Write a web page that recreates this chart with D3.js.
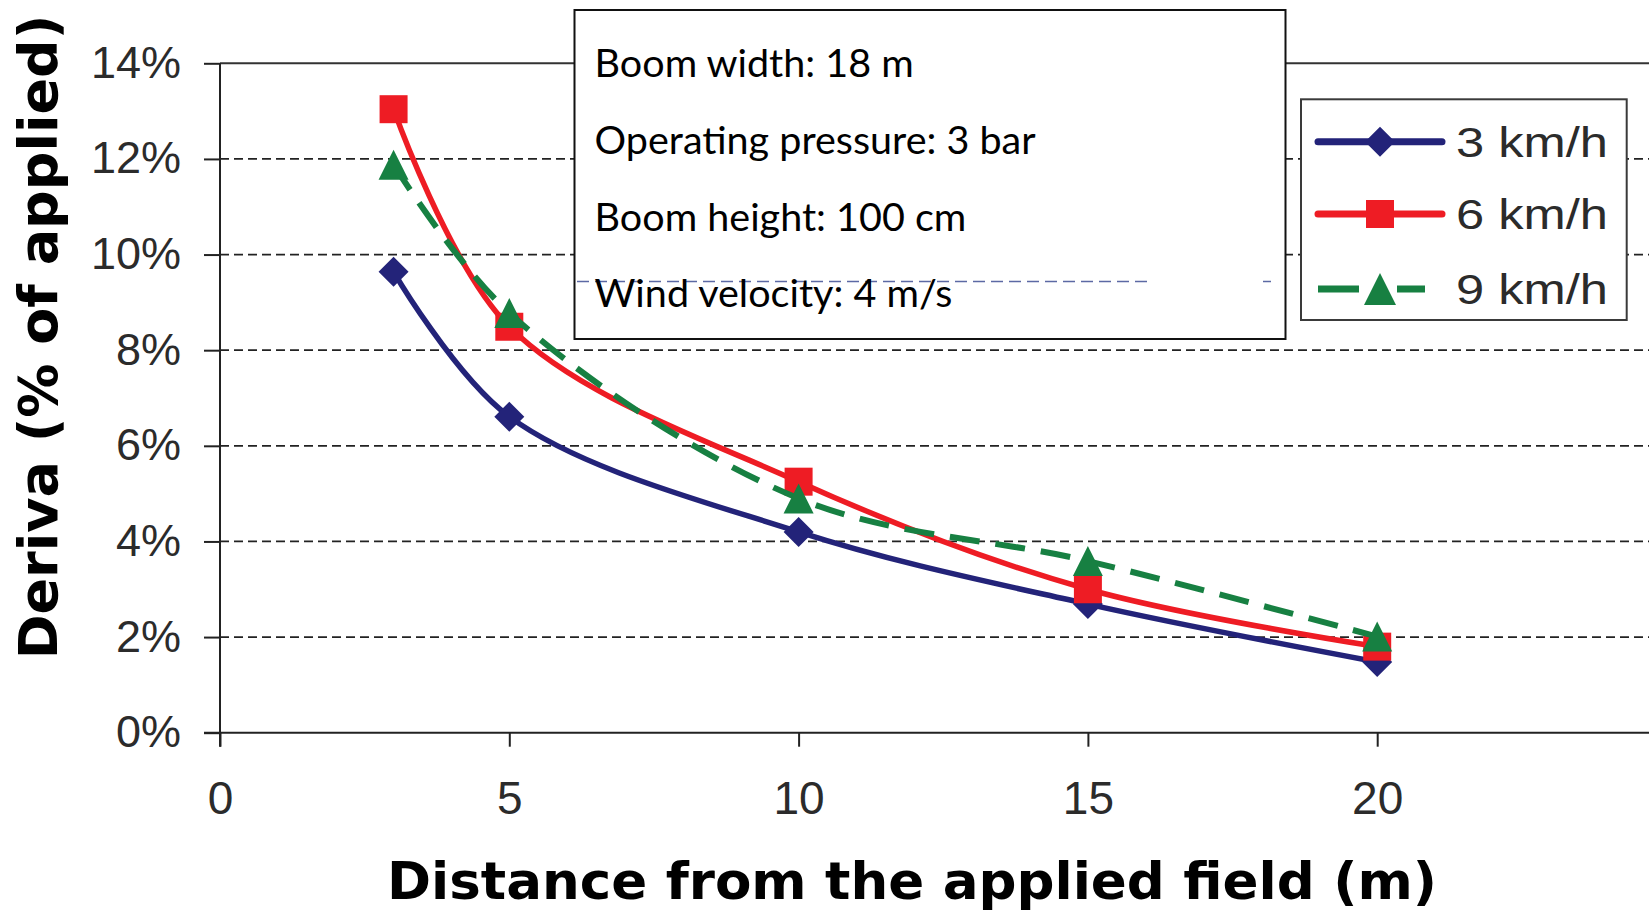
<!DOCTYPE html>
<html>
<head>
<meta charset="utf-8">
<script src="https://cdn.jsdelivr.net/npm/d3@7"></script>
<style>
  html, body { margin: 0; padding: 0; background: #fff; }
  svg { display: block; }
</style>
</head>
<body>
<svg id="chart" width="1649" height="914"></svg>
<script>
// Distance from the sprayed field (m)
const distances = [3, 5, 10, 15, 20];
// Drift, % of applied dose, per travel speed
const drift3kmh = [9.64, 6.61, 4.20, 2.69, 1.48];
const drift6kmh = [13.04, 8.49, 5.25, 3.00, 1.80];
const drift9kmh = [11.88, 8.78, 4.90, 3.59, 2.01];
const seriesNames = ["3 km/h", "6 km/h", "9 km/h"];
const xTickValues = [0, 5, 10, 15, 20];
const yTickValues = [0, 2, 4, 6, 8, 10, 12, 14];
const conditions = [
  "Boom width: 18 m",
  "Operating pressure: 3 bar",
  "Boom height: 100 cm",
  "Wind velocity: 4 m/s"
];

const series = [
  { name: seriesNames[0], values: drift3kmh, color: "#232379", marker: "diamond", dash: null },
  { name: seriesNames[1], values: drift6kmh, color: "#ee1c24", marker: "square", dash: null },
  { name: seriesNames[2], values: drift9kmh, color: "#178042", marker: "triangle", dash: "30 16" }
];

const svg = d3.select("#chart");

const x = d3.scaleLinear().domain([0, 25]).range([220, 220 + 25 * 57.86]);
const y = d3.scaleLinear().domain([0, 14]).range([732.7, 63.3]);

const axisColor = "#222";
const tickFont = "'Liberation Sans', Arial, Helvetica, sans-serif";

// Horizontal gridlines (dashed), top border solid
const grid = svg.append("g");
grid.selectAll("line")
  .data(yTickValues.filter(v => v > 0))
  .join("line")
  .attr("x1", x(0)).attr("x2", 1649)
  .attr("y1", d => y(d)).attr("y2", d => y(d))
  .attr("stroke", d => d === 14 ? "#333" : "#222")
  .attr("stroke-width", d => d === 14 ? 2 : 1.7)
  .attr("stroke-dasharray", d => d === 14 ? null : "9 5");

// Y axis
const yAxis = svg.append("g")
  .attr("transform", `translate(${x(0)},0)`)
  .call(d3.axisLeft(y).tickValues(yTickValues).tickSize(16).tickSizeOuter(0)
    .tickFormat(d => d + "%"));
yAxis.select(".domain").attr("stroke", axisColor).attr("stroke-width", 2)
  .attr("d", `M0,${y(14)}V${y(0) + 14}`);
yAxis.selectAll(".tick line").attr("stroke", axisColor).attr("stroke-width", 2);
yAxis.selectAll(".tick text")
  .attr("x", -39).attr("dy", null).attr("y", 14)
  .attr("fill", "#2b2b2b")
  .style("font-family", tickFont).style("font-size", "45px");

// X axis
const xAxis = svg.append("g")
  .attr("transform", `translate(0,${y(0)})`)
  .call(d3.axisBottom(x).tickValues(xTickValues).tickSize(14).tickSizeOuter(0));
xAxis.select(".domain").attr("stroke", axisColor).attr("stroke-width", 2)
  .attr("d", `M${x(0) - 16},0H1649`);
xAxis.selectAll(".tick line").attr("stroke", axisColor).attr("stroke-width", 2);
xAxis.selectAll(".tick text")
  .attr("dy", null).attr("y", 81)
  .attr("fill", "#2b2b2b")
  .style("font-family", tickFont).style("font-size", "46px");

// Marker shapes
function markerPath(type, cx, cy, s) {
  if (type === "diamond") {
    return `M${cx},${cy - s}L${cx + s},${cy}L${cx},${cy + s}L${cx - s},${cy}Z`;
  } else if (type === "square") {
    return `M${cx - s},${cy - s}H${cx + s}V${cy + s}H${cx - s}Z`;
  }
  return `M${cx},${cy - s}L${cx + s},${cy + s}H${cx - s}Z`;
}
const markerHalf = { diamond: 15, square: 14, triangle: 15 };

// Series lines and markers
const line = d3.line()
  .x((d, i) => x(distances[i]))
  .y(d => y(d))
  .curve(d3.curveCatmullRom.alpha(0.5));

series.forEach(s => {
  const g = svg.append("g");
  g.append("path")
    .attr("d", line(s.values))
    .attr("fill", "none")
    .attr("stroke", s.color)
    .attr("stroke-width", s.dash ? 6 : 5.5)
    .attr("stroke-linejoin", "round")
    .attr("stroke-dasharray", s.dash);
  g.selectAll("path.mk")
    .data(s.values)
    .join("path")
    .attr("class", "mk")
    .attr("d", (d, i) => markerPath(s.marker, x(distances[i]), y(d), markerHalf[s.marker]))
    .attr("fill", s.color);
});

// Test conditions box
const info = svg.append("g");
info.append("rect")
  .attr("x", 574.5).attr("y", 10).attr("width", 711).attr("height", 329)
  .attr("fill", "#fff").attr("stroke", "#111").attr("stroke-width", 2);
info.append("line")
  .attr("x1", 577).attr("x2", 1152).attr("y1", 281.5).attr("y2", 281.5)
  .attr("stroke", "#34448e").attr("stroke-width", 1.5).attr("opacity", 0.8)
  .attr("stroke-dasharray", "12 6");
info.append("line")
  .attr("x1", 1263).attr("x2", 1271).attr("y1", 281.5).attr("y2", 281.5)
  .attr("stroke", "#34448e").attr("stroke-width", 1.5).attr("opacity", 0.8);
info.selectAll("text")
  .data(conditions)
  .join("text")
  .attr("x", 594.6)
  .attr("y", (d, i) => 77 + i * 76.8)
  .attr("fill", "#000")
  .style("font-family", "Lato, 'Open Sans', sans-serif")
  .style("font-size", "39.5px")
  .text(d => d);

// Legend
const legend = svg.append("g");
legend.append("rect")
  .attr("x", 1301).attr("y", 99.3).attr("width", 325.7).attr("height", 220.7)
  .attr("fill", "#fff").attr("stroke", "#3a3a3a").attr("stroke-width", 2);
const rowY = [141.7, 214, 289];
series.forEach((s, i) => {
  const g = legend.append("g");
  g.append("line")
    .attr("x1", 1318).attr("x2", s.dash ? 1425 : 1442)
    .attr("y1", rowY[i]).attr("y2", rowY[i])
    .attr("stroke", s.color).attr("stroke-width", 7)
    .attr("stroke-linecap", s.dash ? "butt" : "round")
    .attr("stroke-dasharray", s.dash ? "41 38 28" : null);
  g.append("path")
    .attr("d", markerPath(s.marker, 1380, rowY[i], markerHalf[s.marker] + (s.marker === "triangle" ? 1 : 0)))
    .attr("fill", s.color);
  g.append("text")
    .attr("x", 1456).attr("y", rowY[i] + 15)
    .attr("fill", "#2b2b2b")
    .style("font-family", tickFont).style("font-size", "42px")
    .attr("textLength", 152).attr("lengthAdjust", "spacingAndGlyphs")
    .text(s.name);
});

// Axis titles
svg.append("text")
  .attr("x", 912).attr("y", 899)
  .attr("text-anchor", "middle")
  .attr("fill", "#000")
  .style("font-family", "'DejaVu Sans', Verdana, sans-serif")
  .style("font-weight", "bold").style("font-size", "52px")
  .attr("textLength", 1050).attr("lengthAdjust", "spacingAndGlyphs")
  .text("Distance from the applied field (m)");

svg.append("text")
  .attr("transform", "translate(57,337) rotate(-90)")
  .attr("text-anchor", "middle")
  .attr("fill", "#000")
  .style("font-family", "'DejaVu Sans', Verdana, sans-serif")
  .style("font-weight", "bold").style("font-size", "54px")
  .text("Deriva (% of applied)");
</script>
</body>
</html>
